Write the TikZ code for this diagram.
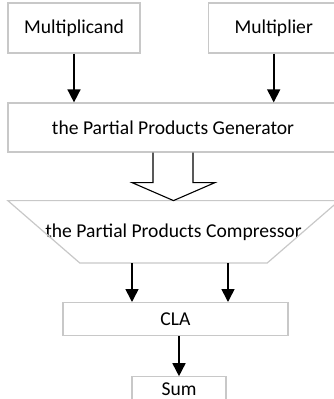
\documentclass[tikz,border=0pt]{standalone}
\usepackage{fontspec}
\setmainfont{Carlito}
\usetikzlibrary{positioning,arrows.meta}
\definecolor{boxgray}{RGB}{200,200,200}

\begin{document}
\begin{tikzpicture}[
		x=1pt, y=-1pt,
		every node/.style={
			align=center,
			font=\fontsize{19.6}{23}\selectfont,
			inner sep=0pt,
		},
		block/.style={draw=boxgray, line width=1.2pt},
		arr/.style={line width=1.6pt, -{Triangle[length=13pt,width=13pt]}},
		]
		\useasboundingbox (0,0) rectangle (334,399);
		\clip (0,0) rectangle (334,399);

		\node (mcand) [block, minimum width=132pt, minimum height=50pt] at (74,28) {Multiplicand};
		\node (mplier) [block, minimum width=131pt, minimum height=50pt, right=67pt of mcand] {Multiplier};
		\node (gen) [block, minimum width=330pt, minimum height=49pt] at (173,127.5) {the Partial Products Generator};
		\node (comp) [minimum width=331pt, minimum height=62pt, below=48pt of gen, xshift=0.5pt] {the Partial Products Compressor};
		\draw[boxgray, line width=1.2pt] (comp.north west) -- (comp.north east)
			-- ([xshift=-72pt]comp.south east) -- ([xshift=72pt]comp.south west) -- cycle;
		\node (cla) [block, minimum width=225pt, minimum height=33pt, below=39pt of comp, xshift=2pt] {CLA};
		\node (sum) [block, minimum width=94pt, minimum height=24pt, below=40pt of cla, xshift=3.5pt] {Sum};

		\draw[arr] (mcand.south) -- (mcand.south |- gen.north);
		\draw[arr] (mplier.south) -- (mplier.south |- gen.north);
		\draw[line width=1.1pt, line join=miter] ([xshift=-20pt]gen.south) -- ++(0,30) -- ++(-21,0)
			-- (comp.north) -- ++(41.5,-18) -- ++(-22,0) -- ([xshift=20pt]gen.south);
		\draw[arr] ([xshift=-41.5pt]comp.south) coordinate (cl) -- (cl |- cla.north);
		\draw[arr] ([xshift=54.5pt]comp.south) coordinate (cr) -- (cr |- cla.north);
		\draw[arr] (sum.north |- cla.south) -- (sum.north);

	\end{tikzpicture}
\end{document}
